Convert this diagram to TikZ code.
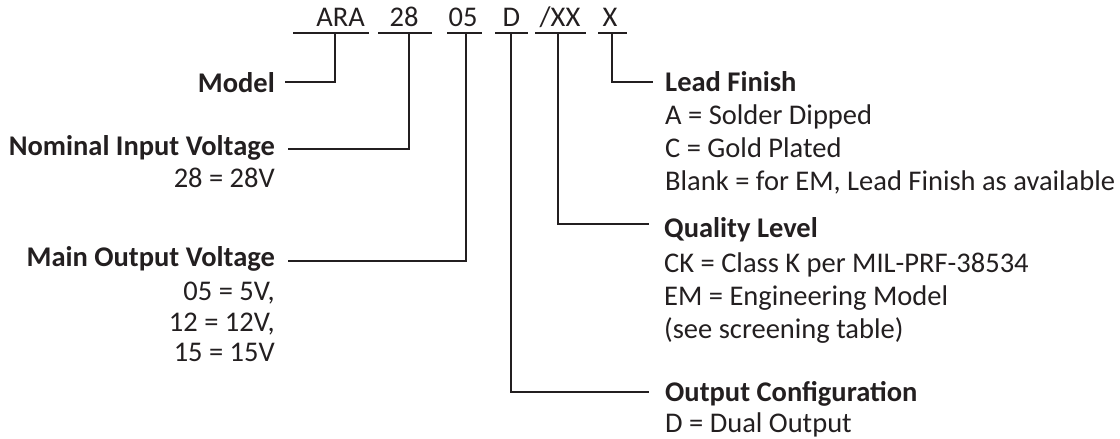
\documentclass[tikz,border=0pt]{standalone}
\usepackage{fontspec}
\setmainfont{Carlito}
\definecolor{ink}{HTML}{231F20}
\begin{document}
\begin{tikzpicture}[x=1pt,y=-1pt,
  lbl/.style={inner sep=0pt, text=ink, font=\fontsize{28.5}{34}\selectfont},
  head/.style={inner sep=0pt, text=ink, font=\fontsize{28.5}{34}\selectfont\bfseries},
  conn/.style={draw=ink, line width=1.4pt}]
\useasboundingbox (0,0) rectangle (1120,439);
% part number code
\node[lbl, anchor=base] (cARA) at (340.5,27) {ARA};
\node[lbl, anchor=base] (c28) at (404,27) {28};
\node[lbl, anchor=base] (c05) at (463,27) {05};
\node[lbl, anchor=base] (cD) at (511.5,27) {D};
\node[lbl, anchor=base] (cXX) at (560,27) {/XX};
\node[lbl, anchor=base] (cX) at (610,27) {X};
% underlines
\coordinate (uA1) at (293,33); \coordinate (uA2) at (369,33);
\coordinate (u281) at (378,33); \coordinate (u282) at (432,33);
\coordinate (u051) at (447,33); \coordinate (u052) at (482,33);
\coordinate (uD1) at (495,33); \coordinate (uD2) at (528,33);
\coordinate (uXX1) at (535,33); \coordinate (uXX2) at (586,33);
\coordinate (uX1) at (598,33); \coordinate (uX2) at (627,33);
\draw[conn] (uA1) -- (uA2);
\draw[conn] (u281) -- (u282);
\draw[conn] (u051) -- (u052);
\draw[conn] (uD1) -- (uD2);
\draw[conn] (uXX1) -- (uXX2);
\draw[conn] (uX1) -- (uX2);
% left labels
\node[head, anchor=base east] (model) at (275,92) {Model};
\node[head, anchor=base east] (nom) at (275,155) {Nominal Input Voltage};
\node[lbl, anchor=base east] (nom1) at (275,187) {28 = 28V};
\node[head, anchor=base east] (main) at (275,266) {Main Output Voltage};
\node[lbl, anchor=base east] (main1) at (275,300) {05 = 5V,};
\node[lbl, anchor=base east] (main2) at (275,331) {12 = 12V,};
\node[lbl, anchor=base east] (main3) at (275,361) {15 = 15V};
% right labels
\node[head, anchor=base west] (lead) at (665,91) {Lead Finish};
\node[lbl, anchor=base west] (lead1) at (665,124) {A = Solder Dipped};
\node[lbl, anchor=base west] (lead2) at (665,157) {C = Gold Plated};
\node[lbl, anchor=base west] (lead3) at (665,190) {Blank = for EM, Lead Finish as available};
\node[head, anchor=base west] (qual) at (664,237) {Quality Level};
\node[lbl, anchor=base west] (qual1) at (664,272) {CK = Class K per MIL-PRF-38534};
\node[lbl, anchor=base west] (qual2) at (664,305) {EM = Engineering Model};
\node[lbl, anchor=base west] (qual3) at (664,338) {(see screening table)};
\node[head, anchor=base west] (outc) at (665,401) {Output Configuration};
\node[lbl, anchor=base west] (outc1) at (665,432) {D = Dual Output};
% connector ends
\coordinate (tA) at (335,33);  \coordinate (eA) at (285,82);
\coordinate (t28) at (409,33); \coordinate (e28) at (288,149);
\coordinate (t05) at (466,33); \coordinate (e05) at (288,261);
\coordinate (tD) at (511,33);  \coordinate (eD) at (649,392);
\coordinate (tXX) at (558,33); \coordinate (eXX) at (649,224);
\coordinate (tX) at (612,33);  \coordinate (eX) at (653,82);
\draw[conn] (tA) |- (eA);
\draw[conn] (t28) |- (e28);
\draw[conn] (t05) |- (e05);
\draw[conn] (tD) |- (eD);
\draw[conn] (tXX) |- (eXX);
\draw[conn] (tX) |- (eX);
\end{tikzpicture}
\end{document}
